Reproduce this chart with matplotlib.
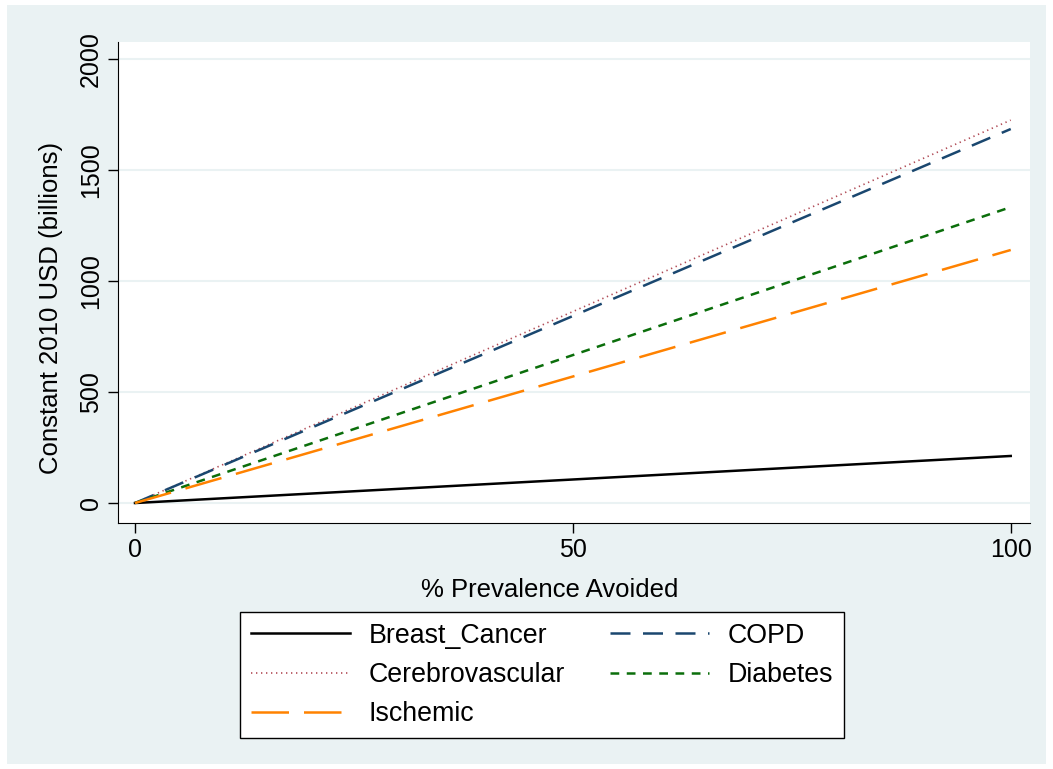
import matplotlib
matplotlib.use("Agg")
import matplotlib.pyplot as plt
from matplotlib.patches import Rectangle

plt.rcParams['font.family'] = ['Liberation Sans', 'DejaVu Sans']

# % prevalence avoided and cost savings (billions, constant 2010 USD)
prevalence = [0, 100]
breast_cancer = [0, 212]
cerebrovascular = [0, 1725]
copd = [0, 1685]
diabetes = [0, 1333]
ischemic = [0, 1140]

fig = plt.figure(figsize=(10.53, 7.69), dpi=100, facecolor='white')
# stata-like outer background
fig.patches.append(Rectangle((7/1053, 5/769), 1 - 14/1053, 1 - 10/769,
                             transform=fig.transFigure, facecolor='#eaf2f3',
                             edgecolor='none', zorder=-1))
ax = fig.add_axes([118/1053, (769-523)/769, (1030-118)/1053, (523-42)/769])
ax.set_facecolor('white')

l1, = ax.plot(prevalence, breast_cancer, color='black', lw=1.8, ls='-', label='Breast_Cancer')
l2, = ax.plot(prevalence, cerebrovascular, color='#b04a55', lw=1.2, ls=(0, (0.8, 2.2)), label='Cerebrovascular')
l3, = ax.plot(prevalence, copd, color='#1a476f', lw=1.8, ls=(0, (8, 5)), label='COPD')
l4, = ax.plot(prevalence, diabetes, color='#0b6e0b', lw=1.8, ls=(0, (3.5, 3)), label='Diabetes')
l5, = ax.plot(prevalence, ischemic, color='#ff8200', lw=1.8, ls=(0, (15, 6)), label='Ischemic')

ax.set_xlim(-1.94, 102.2)
ax.set_ylim(-90, 2077)
ax.set_xticks([0, 50, 100])
ax.set_yticks([0, 500, 1000, 1500, 2000])
ax.set_yticklabels(['0', '500', '1000', '1500', '2000'], rotation=90, va='center')
ax.grid(axis='y', color='#eaf2f3', lw=1.5)
ax.set_axisbelow(True)
ax.tick_params(axis='both', labelsize=18, length=7, width=1, direction='out', pad=4)
ax.spines['top'].set_visible(False)
ax.spines['right'].set_visible(False)
ax.spines['left'].set_color('black')
ax.spines['bottom'].set_color('black')
ax.set_xlabel('% Prevalence Avoided', fontsize=18.5, labelpad=11)
ax.set_ylabel('Constant 2010 USD (billions)', fontsize=18.5, labelpad=11)
# stata centres the titles on the whole graph, not on the plot region
ax.xaxis.label.set_x(0.473)
ax.yaxis.label.set_y(0.447)

leg = fig.legend(handles=[l1, l2, l5, l3, l4], ncol=2, loc='center',
                 bbox_to_anchor=(542/1053, 1 - 675/769), fontsize=19.3,
                 frameon=True, fancybox=False, edgecolor='black', framealpha=1,
                 handlelength=3.7, handletextpad=0.7, columnspacing=1.65,
                 labelspacing=0.5, borderpad=0.4)
leg.get_frame().set_linewidth(1)

fig.savefig('out.png', dpi=100, facecolor=fig.get_facecolor())
